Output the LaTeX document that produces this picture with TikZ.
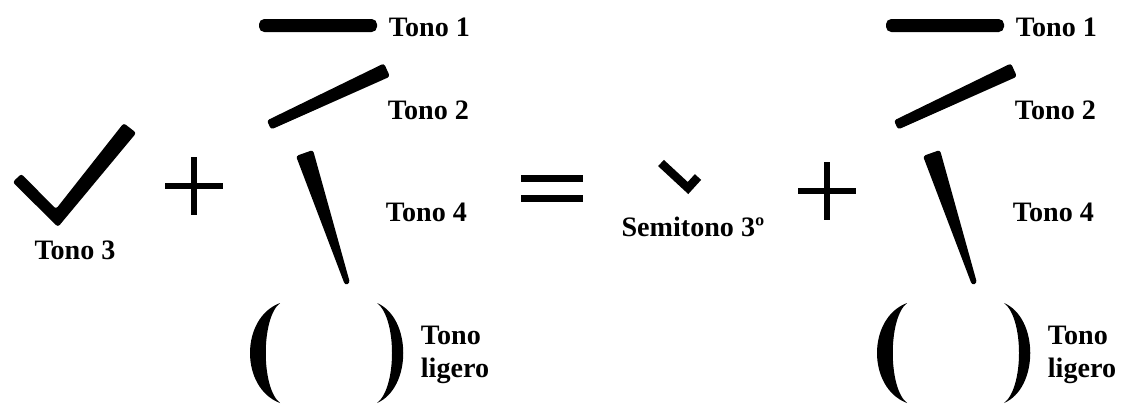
\documentclass[tikz,border=0pt]{standalone}
\usepackage{fontspec}
\setmainfont{Liberation Serif}
\usetikzlibrary{positioning}
\tikzset{
  every picture/.style={line width=1pt},
  lbl/.style={font=\fontsize{16}{18.7}\selectfont\bfseries, inner sep=0pt, anchor=west, align=left},
  sym/.style={draw=black, line width=0.12cm},
  ink/.style={fill=black, rounded corners=1.5pt},
}

\begin{document}
\begin{tikzpicture}[x=0.02cm, y=-0.02cm]
  \fill[white] (0,0) rectangle (1122,403);
  \useasboundingbox (0,0) rectangle (1122,403);
  \clip (0,0) rectangle (1122,403);
  % tono 3 and first plus
  \fill[ink] (12.7,182.2) -- (21.3,173.8) -- (56,209) -- (123.7,123.1) -- (136.3,132.9) -- (58,227) -- cycle;
  \node[lbl, anchor=center] (t3) at (75,250) {Tono 3};
  \draw[sym] (165,186) -- (223,186); \draw[sym] (194,157) -- (194,215);
  % equals, semitono and second plus
  \draw[line width=0.14cm] (521,178) -- (583,178); \draw[line width=0.14cm] (521,198) -- (583,198);
  \draw[line width=0.17cm, line join=miter] (661,163) -- (688,188) -- (698,177);
  \node[lbl, anchor=center] (st) at (693,227) {Semitono 3º};
  \draw[sym] (798,191) -- (856,191); \draw[sym] (827,162) -- (827,220);
  % the four tone marks, left and right
  \foreach \g/\dx in {l/0, r/627} {
    \begin{scope}[shift={(\dx,0)}]
      \fill[rounded corners=3] (259,19) rectangle (377,32);
      \node[lbl] (t1\g) at (388,27) {Tono 1};
      \fill[ink] (266.9,120.5) -- (384.0,63.4) -- (390.0,76.6) -- (271.1,129.5) -- cycle;
      \node[lbl] (t2\g) at (387,110) {Tono 2};
      \fill[ink] (296,156) -- (313,150) -- (350,283) -- (345,285) -- cycle;
      \node[lbl] (t4\g) at (385,212) {Tono 4};
      \fill (280,303) .. controls (240,318) and (240,388) .. (280,403) .. controls (261,388) and (261,318) .. cycle;
      \fill (377,303) .. controls (412,318) and (412,388) .. (377,403) .. controls (397,388) and (397,318) .. cycle;
      \node[lbl] (tl\g) at (420,355) {Tono\\ligero};
    \end{scope}
  }
\end{tikzpicture}
\end{document}
